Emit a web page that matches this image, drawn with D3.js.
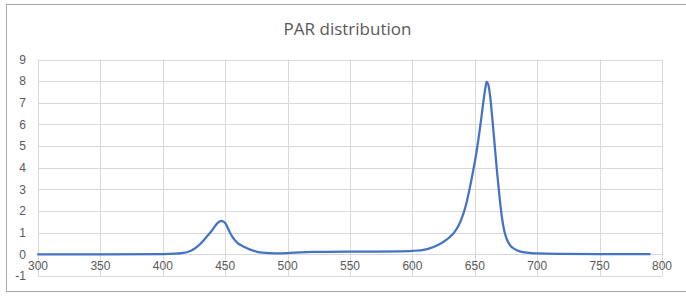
<!DOCTYPE html>
<html><head><meta charset="utf-8">
<script src="https://cdn.jsdelivr.net/npm/d3@7"></script>
<style>body{margin:0;background:#fff}svg{display:block}</style>
</head><body>
<script>
const title = "PAR distribution";
const wavelengths = [300,350,400,410,415,420,425,430,435,440,444,447,450,453,456,460,465,470,475,480,490,500,510,520,530,550,570,590,600,610,615,620,625,630,634,638,641,643,645,647,649,651,653,655,657,658.5,659.5,661,662.5,664,666,668,670,672,674,676,678,682,686,690,695,700,720,750,790];
const parValues  = [0,0,0.01,0.03,0.06,0.11,0.25,0.48,0.8,1.15,1.45,1.55,1.45,1.1,0.78,0.52,0.35,0.22,0.13,0.08,0.05,0.06,0.09,0.11,0.12,0.13,0.13,0.14,0.16,0.22,0.3,0.42,0.58,0.8,1.05,1.45,1.9,2.3,2.8,3.35,3.95,4.6,5.35,6.2,7.1,7.7,7.97,7.8,7.2,6.3,5.0,3.7,2.55,1.6,1.0,0.65,0.44,0.24,0.14,0.09,0.06,0.04,0.02,0.01,0.01];
const xTicks = [300,350,400,450,500,550,600,650,700,750,800];
const yTicks = [-1,0,1,2,3,4,5,6,7,8,9];

const W = 686, H = 296;
const svg = d3.select("body").append("svg").attr("width", W).attr("height", H);

svg.append("rect").attr("x",6.5).attr("y",4.5).attr("width",W+10).attr("height",287)
  .attr("fill","#fff").attr("stroke","#a6a6a6").attr("stroke-width",1);

const x = d3.scaleLinear().domain([300,800]).range([38,662]);
const y = d3.scaleLinear().domain([-1,9]).range([276,59.5]);

const grid = svg.append("g").attr("stroke","#d9d9d9").attr("stroke-width",1);
grid.selectAll("line.h").data(yTicks).join("line").attr("class","h")
  .attr("x1",x(300)).attr("x2",x(800))
  .attr("y1",d=>Math.round(y(d))+0.5).attr("y2",d=>Math.round(y(d))+0.5);
grid.selectAll("line.v").data(xTicks).join("line").attr("class","v")
  .attr("y1",y(9)).attr("y2",y(-1))
  .attr("x1",d=>Math.round(x(d))+0.5).attr("x2",d=>Math.round(x(d))+0.5);

const font = "'Liberation Sans', Arial, sans-serif";
svg.append("g").selectAll("text").data(yTicks).join("text")
  .attr("x",26).attr("y",d=>y(d)).attr("dy","0.35em")
  .attr("text-anchor","end").attr("font-family",font).attr("font-size",12)
  .attr("fill","#595959").text(d=>d);
svg.append("g").selectAll("text").data(xTicks).join("text")
  .attr("x",d=>x(d)).attr("y",y(0)+16)
  .attr("text-anchor","middle").attr("font-family",font).attr("font-size",12)
  .attr("fill","#595959").text(d=>d);

svg.append("text").attr("x",347.5).attr("y",35).attr("text-anchor","middle")
  .attr("font-family","'Open Sans', 'Liberation Sans', sans-serif").attr("font-size",17).attr("fill","#595959").text(title);

const pts = wavelengths.map((w,i)=>[w,parValues[i]]);
svg.append("path").datum(pts)
  .attr("fill","none").attr("stroke","#4472C4").attr("stroke-width",2.25)
  .attr("stroke-linejoin","round").attr("stroke-linecap","round")
  .attr("d", d3.line().x(d=>x(d[0])).y(d=>y(d[1])).curve(d3.curveMonotoneX));
</script>
</body></html>
